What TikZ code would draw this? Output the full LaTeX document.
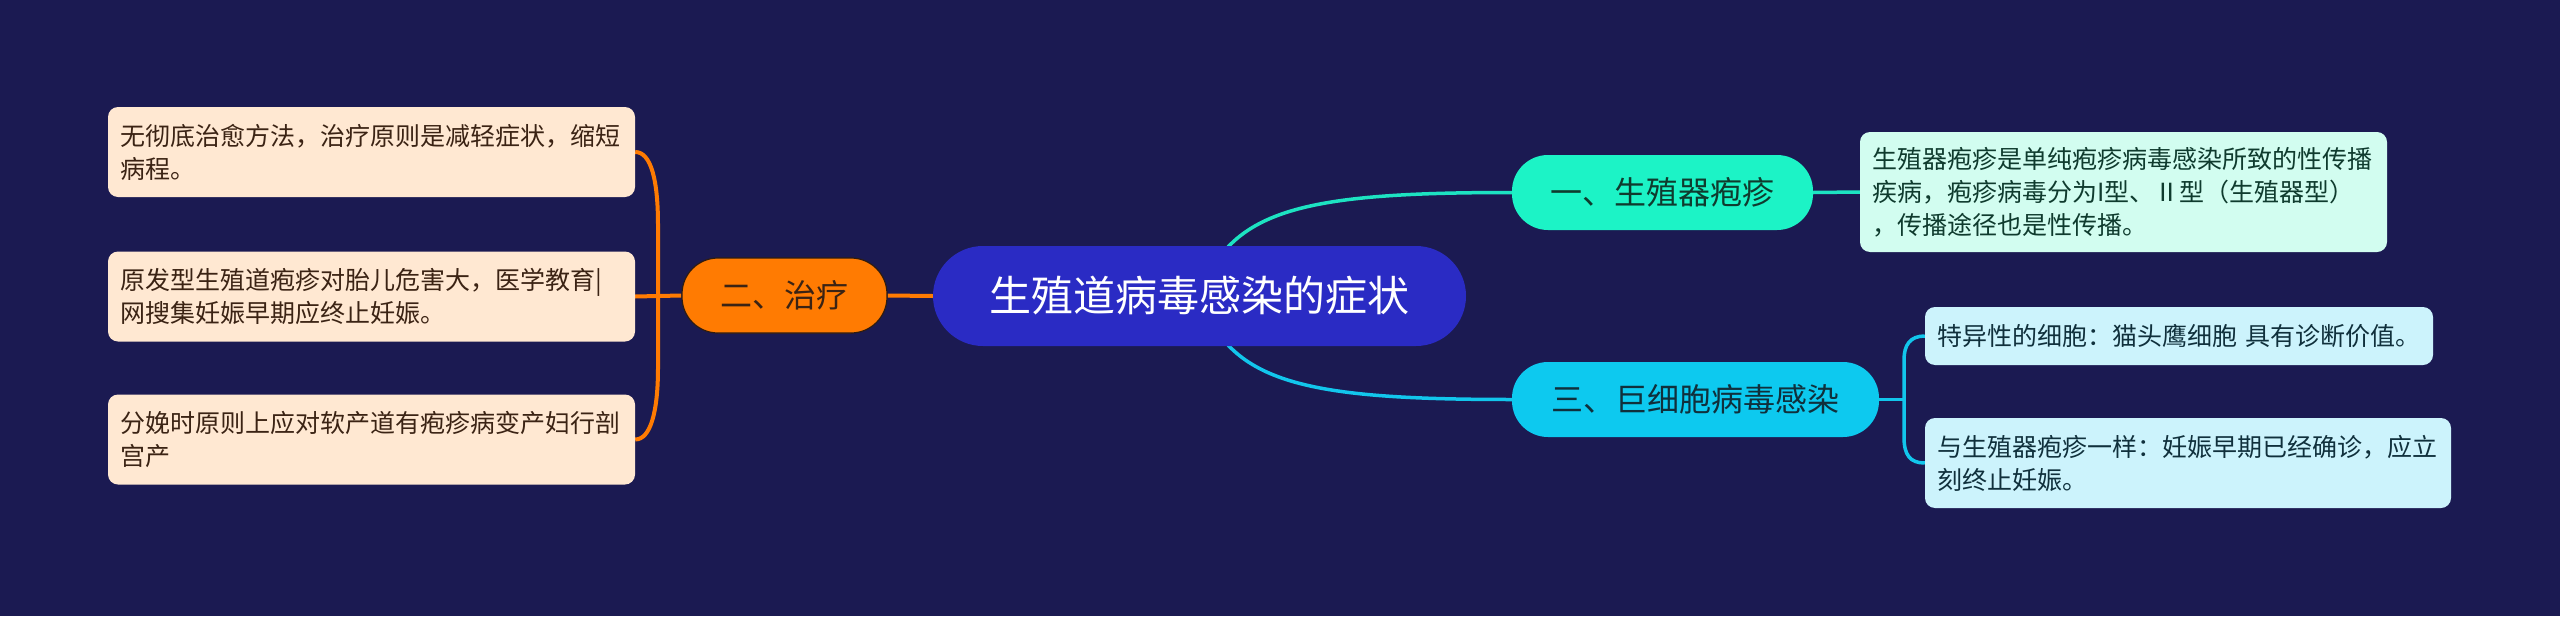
\documentclass[tikz,border=0pt]{standalone}
\usepackage{fontspec}
\newfontfamily\cjk{Noto Sans CJK SC}
\pgfdeclarelayer{back}
\pgfdeclarelayer{bg}
\pgfsetlayers{back,bg,main}
\definecolor{bgc}{HTML}{1B1A52}
\definecolor{centerc}{HTML}{2A2BC4}
\definecolor{orangec}{HTML}{FF7B02}
\definecolor{peach}{HTML}{FFE8D2}
\definecolor{browntxt}{HTML}{3B2314}
\definecolor{greenc}{HTML}{1CF3C6}
\definecolor{mint}{HTML}{D2FDF0}
\definecolor{greentxt}{HTML}{0F3B2E}
\definecolor{bluec}{HTML}{0DC9EF}
\definecolor{lightcyan}{HTML}{CCF3FC}
\definecolor{bluetxt}{HTML}{10303C}
\definecolor{tealline}{HTML}{1DE3C2}
\definecolor{cyanline}{HTML}{12C6EC}
\begin{document}
\begin{tikzpicture}[x=1pt,y=-1pt,
  every node/.style={font=\cjk},
  rootnode/.style={fill=centerc, rounded corners=50pt, minimum width=533pt, minimum height=100pt,
    inner sep=0pt, text=white, font=\cjk\fontsize{42}{50}\selectfont},
  topicnode/.style={rounded corners=36pt, minimum height=75pt, inner sep=0pt,
    font=\cjk\fontsize{32}{38}\selectfont},
  leafbox/.style={rounded corners=10pt, inner xsep=12pt, inner ysep=0pt, align=left,
    font=\cjk\fontsize{25}{33}\selectfont},
  oline/.style={draw=orangec, line width=4pt},
  tline/.style={draw=tealline, line width=3.5pt},
  cline/.style={draw=cyanline, line width=3.5pt}
]
\begin{pgfonlayer}{back}
\fill[bgc] (0,0) rectangle (2560,616);
\end{pgfonlayer}
\useasboundingbox (0,0) rectangle (2560,616);

% root
\node[rootnode] (c) at (1199.5,296) {生殖道病毒感染的症状};

% left branch
\node[topicnode, fill=orangec, draw=browntxt!80!black, line width=1.2pt, minimum width=205pt, text=browntxt] (o) at (784.5,295.5) {二、治疗};
\node[leafbox, fill=peach, text=browntxt, text width=503pt, minimum height=90pt] (b1) at (371.5,152) {无彻底治愈方法，治疗原则是减轻症状，缩短\\病程。};
\node[leafbox, fill=peach, text=browntxt, text width=503pt, minimum height=90pt] (b2) at (371.5,296.5) {原发型生殖道疱疹对胎儿危害大，医学教育|\\网搜集妊娠早期应终止妊娠。};
\node[leafbox, fill=peach, text=browntxt, text width=503pt, minimum height=90pt] (b3) at (371.5,439.5) {分娩时原则上应对软产道有疱疹病变产妇行剖\\宫产};

% right top branch
\node[topicnode, fill=greenc, minimum width=301pt, text=greentxt] (g) at (1662.5,192.5) {一、生殖器疱疹};
\node[leafbox, fill=mint, text=greentxt, text width=503pt, minimum height=120pt] (gt) at (2123.5,192) {生殖器疱疹是单纯疱疹病毒感染所致的性传播\\疾病，疱疹病毒分为I型、Ⅱ型（生殖器型）\\，传播途径也是性传播。};

% right bottom branch
\node[topicnode, fill=bluec, minimum width=367pt, text=bluetxt] (bl) at (1695.5,399.5) {三、巨细胞病毒感染};
\node[leafbox, fill=lightcyan, text=bluetxt, text width=484pt, minimum height=58pt] (r1) at (2179,336) {特异性的细胞：猫头鹰细胞 具有诊断价值。};
\node[leafbox, fill=lightcyan, text=bluetxt, text width=502pt, minimum height=90pt] (r2) at (2188,463) {与生殖器疱疹一样：妊娠早期已经确诊，应立\\刻终止妊娠。};

% bracket coordinates
\coordinate (lbt) at (658,225);
\coordinate (lbb) at (658,368);
\coordinate (rbt) at (1904,362);
\coordinate (rbb) at (1904,437);

\begin{pgfonlayer}{bg}
  % root to topics
  \draw[oline] (c.west) -- (o.east);
  \draw[tline] (c.center) .. controls (1230,210) and (1300,192.5) .. (g.west);
  \draw[cline] (c.center) .. controls (1230,382) and (1300,399.5) .. (bl.west);
  % left bracket
  \draw[oline] (o.west) -- (b2.east);
  \draw[oline] (b1.east) .. controls (651,152) and (658,180) .. (lbt) -- (lbb) .. controls (658,410) and (651,439.5) .. (b3.east);
  % right top
  \draw[tline] (g.east) -- (gt.west);
  % right bottom bracket
  \draw[cline] (bl.east) -- (bl.east -| rbt);
  \draw[cline] (r1.west) .. controls (1910,336) and (1904,345) .. (1904,360) -- (rbb) .. controls (1904,455) and (1910,463) .. (r2.west);
\end{pgfonlayer}
\end{tikzpicture}
\end{document}
